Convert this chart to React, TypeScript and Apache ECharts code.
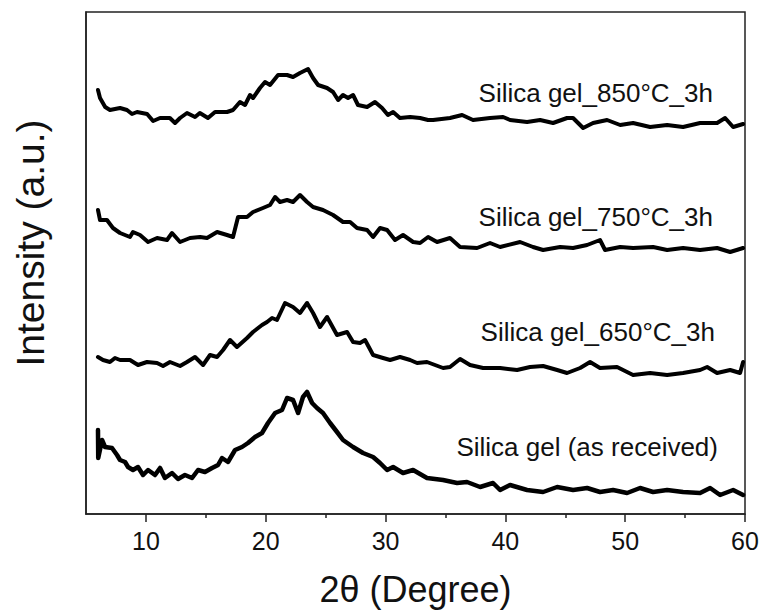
import React, { useEffect, useRef } from "react";
import * as echarts from "echarts";

// 2θ positions (degree) and intensities (a.u., offset stacked as in the figure)
const x850 = [6.0, 6.17, 6.6, 7.0, 7.84, 8.42, 8.84, 9.26, 10.1, 10.6, 11.18, 12.0, 12.43, 12.85, 13.43, 14.1, 14.5, 15.18, 15.77, 16.77, 17.27, 17.85, 18.27, 18.69, 18.94, 19.52, 19.94, 20.36, 21.03, 21.78, 22.28, 22.86, 23.53, 23.95, 24.37, 25.12, 25.62, 26.04, 26.45, 26.87, 27.29, 27.7, 28.46, 29.12, 29.71, 30.2, 30.63, 31.2, 32.05, 32.88, 33.55, 33.97, 35.38, 36.39, 37.3, 38.72, 39.81, 40.39, 41.81, 42.9, 43.98, 45.15, 45.65, 46.49, 47.32, 48.49, 49.58, 50.66, 52.08, 53.5, 54.83, 56.25, 57.67, 58.34, 59.01, 59.84];
const y850 = [424, 416, 407, 404, 406, 404, 400, 402, 400, 393, 396, 396, 391, 396, 401, 397, 401, 396, 402, 402, 404, 412, 409, 419, 416, 426, 432, 429, 439, 439, 437, 441, 445, 436, 429, 426, 422, 414, 419, 416, 419, 409, 407, 412, 406, 399, 402, 396, 397, 396, 394, 394, 396, 399, 394, 396, 397, 394, 392, 394, 391, 396, 396, 386, 391, 394, 389, 391, 387, 389, 387, 391, 391, 396, 387, 390];

const x750 = [6.0, 6.17, 6.75, 7.25, 7.84, 8.67, 8.92, 9.51, 10.18, 10.93, 11.76, 12.18, 12.85, 13.68, 14.52, 15.1, 15.94, 16.77, 17.27, 17.69, 18.44, 18.94, 19.77, 20.36, 20.78, 21.19, 21.78, 22.28, 22.86, 23.45, 23.95, 24.78, 25.62, 26.45, 27.04, 27.62, 28.46, 28.96, 29.54, 30.13, 30.79, 31.46, 32.3, 32.88, 33.55, 34.3, 35.38, 36.22, 37.64, 38.72, 39.56, 41.23, 42.31, 43.15, 44.57, 45.65, 46.82, 47.9, 48.32, 49.58, 50.66, 52.33, 53.5, 54.83, 56.25, 57.67, 58.76, 59.84];
const y750 = [304, 294, 294, 286, 281, 277, 282, 279, 272, 276, 274, 281, 272, 276, 277, 276, 282, 279, 277, 297, 297, 302, 306, 309, 317, 312, 314, 312, 319, 312, 307, 304, 299, 292, 292, 286, 284, 277, 286, 284, 274, 279, 272, 271, 277, 272, 276, 267, 266, 271, 267, 272, 267, 264, 267, 266, 269, 274, 264, 267, 266, 267, 264, 266, 264, 266, 262, 266];

const x650 = [6.0, 6.42, 7.0, 7.42, 7.84, 8.67, 9.34, 10.09, 10.93, 11.43, 12.01, 12.85, 13.43, 14.1, 14.77, 15.35, 15.94, 16.44, 17.02, 17.6, 18.44, 18.94, 19.69, 20.11, 20.53, 20.94, 21.61, 22.28, 22.86, 23.45, 23.95, 24.53, 25.12, 25.95, 26.79, 27.29, 27.87, 28.29, 28.96, 29.79, 30.38, 31.21, 32.05, 32.63, 33.46, 34.8, 35.38, 36.22, 37.05, 38.14, 39.56, 40.98, 42.06, 43.15, 44.32, 45.15, 46.24, 47.07, 47.9, 49.32, 50.66, 52.08, 53.5, 54.83, 56.25, 56.84, 57.67, 58.76, 59.59, 59.84];
const y650 = [157, 154, 152, 156, 154, 154, 149, 152, 151, 148, 152, 148, 152, 157, 149, 159, 157, 164, 174, 167, 176, 182, 189, 192, 196, 194, 211, 207, 201, 211, 201, 187, 197, 179, 182, 172, 171, 174, 159, 156, 154, 157, 154, 151, 152, 146, 147, 155, 149, 146, 146, 144, 147, 148, 144, 141, 146, 152, 146, 147, 139, 141, 139, 141, 144, 147, 141, 144, 141, 152];

const xRaw = [6.0, 6.02, 6.34, 6.59, 7.17, 7.59, 7.84, 8.26, 8.51, 8.92, 9.34, 9.76, 10.18, 10.76, 11.18, 11.59, 12.18, 12.68, 13.26, 13.85, 14.35, 14.93, 15.52, 16.02, 16.35, 16.85, 17.44, 18.02, 18.52, 19.11, 19.69, 20.19, 20.78, 21.36, 21.78, 22.28, 22.7, 23.11, 23.45, 23.87, 24.28, 24.78, 25.37, 25.95, 26.45, 27.29, 28.12, 28.96, 29.54, 30.13, 30.63, 31.46, 32.3, 33.46, 34.8, 35.97, 36.8, 37.89, 38.97, 39.56, 40.39, 41.81, 43.15, 44.32, 45.65, 46.82, 47.9, 48.99, 50.16, 51.24, 52.33, 53.5, 54.83, 56.25, 57.09, 57.92, 59.01, 59.84];
const yRaw = [84, 56, 74, 67, 66, 59, 54, 52, 47, 44, 47, 39, 44, 39, 46, 36, 41, 35, 39, 36, 44, 42, 46, 49, 56, 52, 64, 67, 71, 77, 81, 91, 101, 104, 116, 114, 101, 117, 122, 111, 106, 101, 91, 82, 74, 67, 61, 57, 51, 44, 47, 41, 44, 36, 34, 31, 32, 27, 31, 24, 29, 24, 22, 27, 24, 26, 22, 24, 21, 26, 22, 24, 22, 21, 26, 19, 24, 19];

const labelTicks = [10, 20, 30, 40, 50, 60];
const minorTicks = [15, 25, 35, 45, 55];
const seriesNames = ["Silica gel_850°C_3h", "Silica gel_750°C_3h", "Silica gel_650°C_3h", "Silica gel (as received)"];

const zip = (xs: number[], ys: number[]) => xs.map((x, i) => [x, ys[i]]);

export default function App() {
  const ref = useRef<HTMLDivElement>(null);
  useEffect(() => {
    if (!ref.current) return;
    const chart = echarts.init(ref.current, null, { renderer: "svg" });
    const font = "'Liberation Sans', Arial, sans-serif";
    const lineSeries = (name: string, data: number[][], width: number) => ({
      name,
      type: "line",
      data,
      showSymbol: false,
      symbol: "none",
      lineStyle: { color: "#000", width, join: "round", cap: "round" },
      silent: true,
    });
    const labelText = (text: string, x: number, y: number) => ({
      type: "text",
      x,
      y,
      style: { text, font: `26px ${font}`, fill: "#111", align: "right", verticalAlign: "middle" },
    });
    chart.setOption({
      animation: false,
      backgroundColor: "#fff",
      grid: { left: 86, right: 17, top: 12, bottom: 99, show: true, borderColor: "#222", borderWidth: 1.5 },
      xAxis: [
        {
          type: "value",
          min: 5,
          max: 60,
          interval: 5,
          axisLine: { show: true, lineStyle: { color: "#222", width: 1.5 } },
          axisTick: { show: true, customValues: labelTicks, length: 8, lineStyle: { color: "#222", width: 1.5 } },
          axisLabel: { customValues: labelTicks, fontSize: 25, fontFamily: font, color: "#111", margin: 14 },
          splitLine: { show: false },
          name: "2θ (Degree)",
          nameLocation: "middle",
          nameGap: 57,
          nameTextStyle: { fontSize: 36, fontFamily: font, color: "#111" },
        },
        {
          type: "value",
          min: 5,
          max: 60,
          interval: 5,
          position: "bottom",
          offset: 0,
          axisLine: { show: false },
          axisTick: { show: true, customValues: minorTicks, length: 4, lineStyle: { color: "#222", width: 1.5 } },
          axisLabel: { show: false },
          splitLine: { show: false },
        },
      ],
      yAxis: {
        type: "value",
        min: 0,
        max: 502,
        axisLine: { show: true, lineStyle: { color: "#222", width: 1.5 } },
        axisTick: { show: false },
        axisLabel: { show: false },
        splitLine: { show: false },
      },
      graphic: [
        {
          type: "text",
          x: 30,
          y: 243,
          rotation: Math.PI / 2,
          style: { text: "Intensity (a.u.)", font: `39px ${font}`, fill: "#111", align: "center", verticalAlign: "middle" },
        },
        labelText(seriesNames[0], 713, 93),
        labelText(seriesNames[1], 713, 217),
        labelText(seriesNames[2], 715, 332),
        labelText(seriesNames[3], 718, 447),
      ],
      series: [
        lineSeries(seriesNames[0], zip(x850, y850), 4),
        lineSeries(seriesNames[1], zip(x750, y750), 4),
        lineSeries(seriesNames[2], zip(x650, y650), 4),
        lineSeries(seriesNames[3], zip(xRaw, yRaw), 4.5),
      ],
    });
    return () => chart.dispose();
  }, []);
  return <div ref={ref} style={{ position: "fixed", left: 0, top: 0, width: 762, height: 613 }} />;
}
